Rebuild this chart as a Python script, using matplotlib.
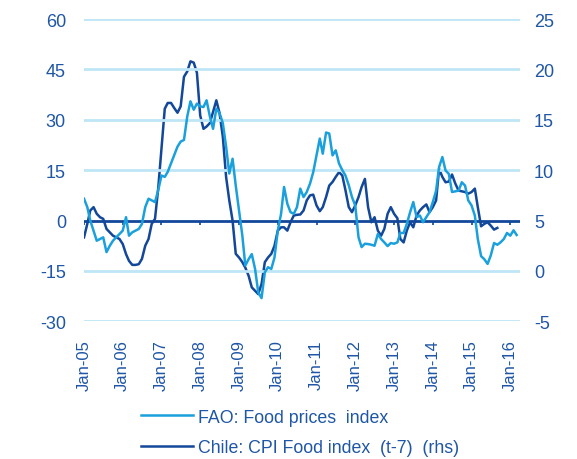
import numpy as np
import pandas as pd
import matplotlib
matplotlib.use("Agg")
import matplotlib.pyplot as plt
import matplotlib.dates as mdates

plt.rcParams['font.family'] = ['Liberation Sans', 'DejaVu Sans']
plt.rcParams['axes.unicode_minus'] = False

# FAO food price index, y/y % (left axis), monthly from Jan-05
fao = [6.5, 4, 0, -3, -6, -5.5, -5, -9.4, -7.5, -6, -5, -4,
       -3, 1, -4.5, -3.5, -3, -2.5, -1, 4, 6.5, 6, 5.5, 9,
       13.4, 13, 14.5, 17, 19.5, 22, 23.5, 24, 31, 35.5, 33, 34.8,
       34, 33.8, 35.8, 31, 27.3, 33.3, 32, 29, 22, 14, 18.4, 10.4,
       3, -4.5, -13.4, -11.5, -10, -14.4, -21.4, -23.1, -15.4, -13.9, -14.4, -11,
       -3, 2, 10, 5, 2.5, 2, 4, 9.5, 7, 8.5, 11, 14.4,
       19.4, 24.4, 19.9, 26.2, 25.9, 19.4, 20.9, 17, 15, 13.4, 10.5, 7,
       4.5, -5, -7.9, -6.9, -7, -7.2, -7.5, -4, -5.5, -6.5, -7.6, -6.7,
       -6.9, -6.5, -3.7, -3.7, -1, 2.5, 5.5, 1, 1.5, -0.5, 1, 2.5,
       5.5, 8.9, 15.9, 18.9, 14.9, 13.9, 8.5, 8.7, 8.9, 11.4, 10.4, 6,
       4.5, 1.5, -5.5, -10.6, -11.5, -12.9, -10.4, -6.7, -7.2, -6.5, -5.5, -3.7,
       -4.5, -2.9, -4.3]

# Chile CPI food index y/y % shifted t-7 (right axis)
chile = [3.33, 4.67, 6.0, 6.33, 5.67, 5.33, 5.17, 4.17, 3.83, 3.5, 3.33, 3.17,
         2.67, 1.67, 1.0, 0.6, 0.6, 0.67, 1.2, 2.5, 3.17, 4.67, 5.17, 8.17,
         12.13, 16.1, 16.67, 16.67, 16.17, 15.7, 16.33, 19.27, 19.8, 20.8, 20.67, 19.67,
         15.43, 14.1, 14.33, 14.67, 15.77, 16.93, 15.67, 13.33, 9.33, 7.0, 5.0, 1.7,
         1.33, 0.87, 0.33, -0.47, -1.63, -1.97, -2.3, -1.3, 0.87, 1.33, 1.7, 2.5,
         4.0, 4.33, 4.33, 4.0, 4.83, 5.5, 5.57, 5.6, 6.0, 7.0, 7.5, 7.57,
         6.5, 5.93, 6.33, 7.33, 8.47, 8.83, 9.33, 9.8, 9.47, 8.0, 6.33, 5.83,
         6.5, 7.33, 8.33, 9.13, 6.33, 4.83, 5.33, 4.0, 3.5, 4.17, 5.67, 6.33,
         5.67, 5.23, 3.17, 2.83, 4.0, 4.83, 4.33, 5.5, 6.0, 6.33, 6.6, 5.83,
         6.33, 7.0, 10.13, 9.33, 8.8, 8.87, 9.57, 8.67, 7.97, 7.9, 7.83, 7.67,
         7.83, 8.17, 6.33, 4.43, 4.67, 4.83, 4.5, 4.1, 4.27]

left_ticks = [-30, -15, 0, 15, 30, 45, 60]
right_ticks = [-5, 0, 5, 10, 15, 20, 25]
tick_years = list(range(2005, 2017))

fao_dates = pd.date_range("2005-01-01", periods=len(fao), freq="MS")
chile_dates = pd.date_range("2005-01-01", periods=len(chile), freq="MS")

LIGHT = '#1AA0DC'
DARK = '#12479A'
GRID = '#BFE6F7'
TXT = '#1F56A5'

fig = plt.figure(figsize=(5.77, 4.60), dpi=100)
ax = fig.add_axes([0.1456, 0.2993, 0.7555, 0.6572])
ax2 = ax.twinx()

for t in left_ticks:
    if t != 0:
        ax.axhline(t, color=GRID, lw=2, zorder=0)
ax.axhline(0, color=DARK, lw=2, zorder=1)
ticks_x = [pd.Timestamp(f"{y}-01-01") for y in tick_years]
ax.vlines(ticks_x, -1.3, 0, color=DARK, lw=1.2, zorder=1)

l1, = ax.plot(fao_dates, fao, color=LIGHT, lw=1.8, zorder=3)
l2, = ax2.plot(chile_dates, chile, color=DARK, lw=1.8, zorder=3)

ax.set_ylim(-30, 60)
ax2.set_ylim(-5, 25)
ax.set_yticks(left_ticks)
ax2.set_yticks(right_ticks)
ax.set_xlim(pd.Timestamp("2005-01-01"), pd.Timestamp("2016-04-01"))
ax.set_xticks(ticks_x)
ax.xaxis.set_major_formatter(mdates.DateFormatter('%b-%y'))

for a in (ax, ax2):
    for s in a.spines.values():
        s.set_visible(False)
    a.tick_params(length=0, colors=TXT, labelsize=13)
ax.tick_params(axis='x', labelrotation=90, labelsize=12, pad=13)
ax.tick_params(axis='y', pad=13)
ax2.tick_params(axis='y', pad=10)
ax.set_zorder(ax2.get_zorder() + 1)
ax.patch.set_visible(False)

fig.legend([l1, l2], ["FAO: Food prices  index", "Chile: CPI Food index  (t-7)  (rhs)"],
           loc='upper left', bbox_to_anchor=(0.232, 0.125), frameon=False,
           fontsize=12.8, labelcolor=TXT, handlelength=2.9, handletextpad=0.3,
           labelspacing=0.75, borderaxespad=0)

fig.savefig("out.png", dpi=100)
